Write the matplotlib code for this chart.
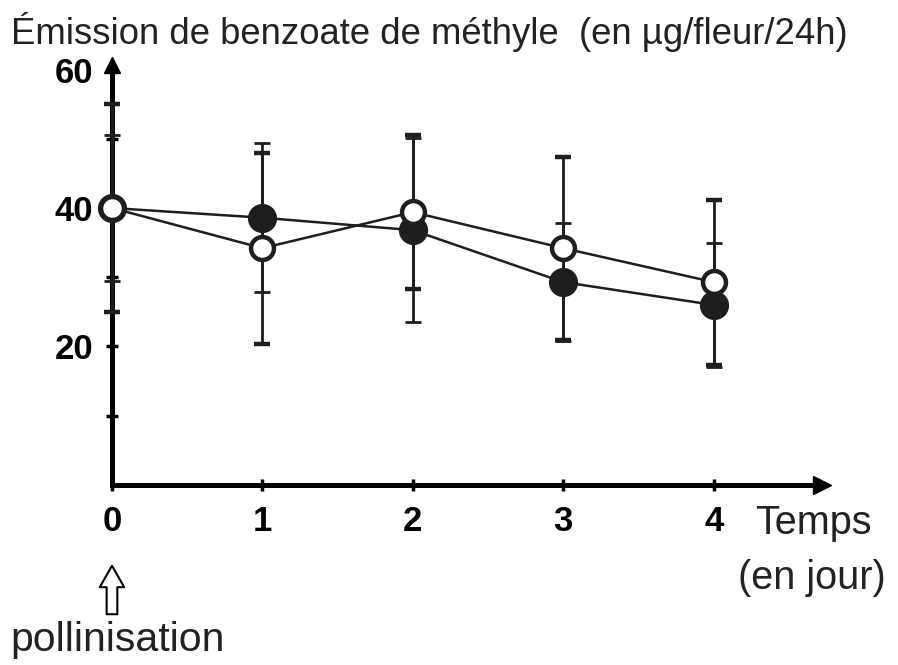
import matplotlib.pyplot as plt

# data (µg/fleur/24h)
days = [0, 1, 2, 3, 4]
filled = [40.0, 38.6, 36.8, 29.3, 26.0]
filled_err = [10.6, 10.8, 13.3, 8.5, 8.9]
hollow = [40.0, 34.2, 39.4, 34.2, 29.3]
hollow_err = [15.0, 13.8, 11.1, 13.2, 11.9]

x_ticks = [0, 1, 2, 3, 4]
y_ticks = [20, 40, 60]
y_minor = [10, 30, 50]

ink = '#1e1e1e'
plt.rcParams['font.family'] = ['Liberation Sans', 'DejaVu Sans']

fig = plt.figure(figsize=(8.98, 6.65), dpi=100)
ax = fig.add_axes([0.1247, 0.2707, 0.7906, 0.6310])


def unclip(cont):
    line, caps, bars = cont
    line.set_clip_on(False)
    for a in list(caps) + list(bars):
        a.set_clip_on(False)


c1 = ax.errorbar(days, filled, yerr=filled_err, fmt='-o', color=ink, lw=1.8,
                 ms=19, mfc=ink, mec=ink, mew=2, elinewidth=2,
                 capsize=6, capthick=2.2, zorder=3)
c2 = ax.errorbar(days, hollow, yerr=hollow_err, fmt='-o', color=ink, lw=1.8,
                 ms=16.5, mfc='white', mec=ink, mew=3.2, elinewidth=2,
                 capsize=6, capthick=2.2, zorder=4)
unclip(c1)
unclip(c2)

ax.set_xlim(0, 4.72)
ax.set_ylim(0, 60.6)

for s in ['top', 'right']:
    ax.spines[s].set_visible(False)
for s in ['left', 'bottom']:
    ax.spines[s].set_linewidth(3.6)
    ax.spines[s].set_color('black')
    ax.spines[s].set_zorder(2)

# arrow heads on the axes
ax.plot(0, 1, '^', ms=12, color='black', transform=ax.transAxes, clip_on=False)
ax.plot(1, 0, '>', ms=13, color='black', transform=ax.transAxes, clip_on=False)

ax.set_xticks(x_ticks)
ax.set_xticklabels([str(t) for t in x_ticks], fontweight='bold', fontsize=25)
ax.set_yticks(y_ticks)
ax.set_yticklabels([str(t) for t in y_ticks], fontweight='bold', fontsize=25)
ax.set_yticks(y_minor, minor=True)
ax.tick_params(axis='both', which='both', direction='inout', length=9, width=2.5,
               color='black')
ax.tick_params(axis='x', pad=10)
ax.tick_params(axis='y', pad=9)

fig.text(0.012, 0.952, 'Émission de benzoate de méthyle  (en µg/fleur/24h)',
         fontsize=26.3, va='center', ha='left', color='#222')
fig.text(0.841, 0.2135, 'Temps', fontsize=28.5, va='center', ha='left', color='#222')
fig.text(0.822, 0.131, '(en jour)', fontsize=28.5, va='center', ha='left', color='#222')
fig.text(0.011, 0.038, 'pollinisation', fontsize=29.5, va='center', ha='left', color='#222')

# hollow arrow marking the pollination
ax.annotate('', xy=(0, 102), xytext=(0, 48), xycoords=('data', 'figure pixels'),
            textcoords=('data', 'figure pixels'),
            arrowprops=dict(arrowstyle='simple,head_length=0.7,head_width=0.8,tail_width=0.35',
                            fc='white', ec='black', lw=1.5, mutation_scale=22))

fig.savefig('out.png', dpi=100)
